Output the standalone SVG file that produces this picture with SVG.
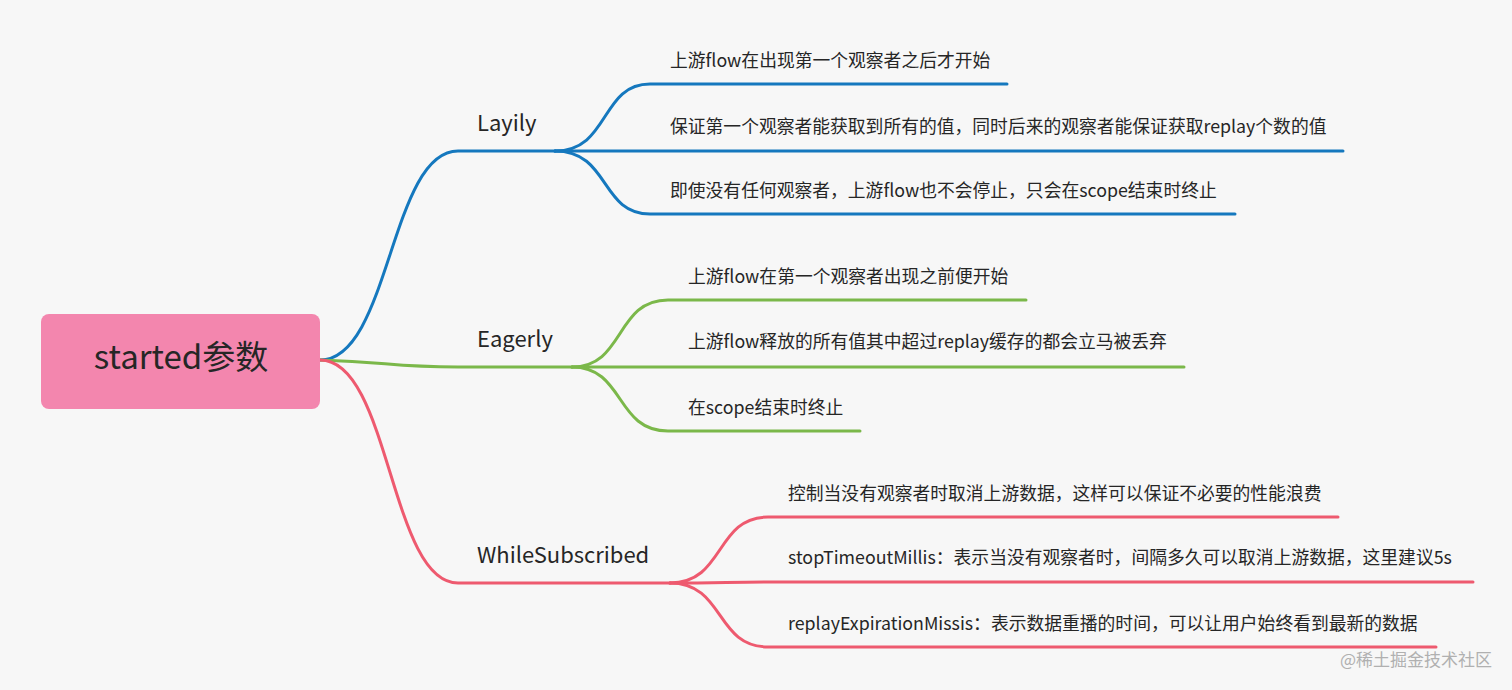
<svg xmlns="http://www.w3.org/2000/svg" width="1512" height="690" viewBox="0 0 1512 690">
<style>
.b{fill:none;stroke-width:3;stroke-linecap:round}
.blue{stroke:#1578be}.green{stroke:#7bb84a}.red{stroke:#ee5a6f}
text{font-family:"Noto Sans CJK SC","Noto Sans",sans-serif;fill:#262626}
.l1{font-size:22px}.l2{font-size:17.8px}
</style>
<rect width="1512" height="690" fill="#f7f7f7"/>
<g id="connectors">
<path class="b blue" d="M320 360 C390 360,390 151,458 151 L555 151"/>
<path class="b green" d="M320 360 C390 362,390 367,458 367 L572 367"/>
<path class="b red" d="M320 360 C390 360,390 583,458 583 L670 583"/>
<path class="b blue" d="M555 151 C610 151,600 84,650 84 L1007 84"/>
<path class="b blue" d="M555 151 C600 151,610 151,650 151 L1343 151"/>
<path class="b blue" d="M555 151 C610 151,600 214,650 214 L1235 214"/>
<path class="b green" d="M572 367 C625 367,615 300,668 300 L1026 300"/>
<path class="b green" d="M572 367 C620 367,630 367,668 367 L1184 367"/>
<path class="b green" d="M572 367 C625 367,615 431,668 431 L860 431"/>
<path class="b red" d="M670 583 C725 583,715 517,768 517 L1338 517"/>
<path class="b red" d="M670 583 C720 583,730 582,768 582 L1473 582"/>
<path class="b red" d="M670 583 C725 583,715 647,768 647 L1436 647"/>
</g>
<g id="root"><rect x="41" y="314" width="279" height="95" rx="8" fill="#f386ae"/><text x="181" y="369" font-size="33" text-anchor="middle">started参数</text></g>
<g id="n-layily"><text class="l1" x="477" y="131">Layily</text></g>
<g id="n-eagerly"><text class="l1" x="477" y="347">Eagerly</text></g>
<g id="n-while"><text class="l1" x="477" y="563">WhileSubscribed</text></g>
<g id="l1"><text class="l2" x="670" y="67">上游flow在出现第一个观察者之后才开始</text></g>
<g id="l2"><text class="l2" x="670" y="133">保证第一个观察者能获取到所有的值，同时后来的观察者能保证获取replay个数的值</text></g>
<g id="l3"><text class="l2" x="670" y="197">即使没有任何观察者，上游flow也不会停止，只会在scope结束时终止</text></g>
<g id="e1"><text class="l2" x="688" y="283">上游flow在第一个观察者出现之前便开始</text></g>
<g id="e2"><text class="l2" x="688" y="348">上游flow释放的所有值其中超过replay缓存的都会立马被丢弃</text></g>
<g id="e3"><text class="l2" x="688" y="414">在scope结束时终止</text></g>
<g id="w1"><text class="l2" x="788" y="500">控制当没有观察者时取消上游数据，这样可以保证不必要的性能浪费</text></g>
<g id="w2"><text class="l2" x="788" y="564">stopTimeoutMillis：表示当没有观察者时，间隔多久可以取消上游数据，这里建议5s</text></g>
<g id="w3"><text class="l2" x="788" y="630">replayExpirationMissis：表示数据重播的时间，可以让用户始终看到最新的数据</text></g>
<text x="1492" y="666" font-size="17" text-anchor="end" style="fill:#b0b0b0">@稀土掘金技术社区</text>
</svg>
